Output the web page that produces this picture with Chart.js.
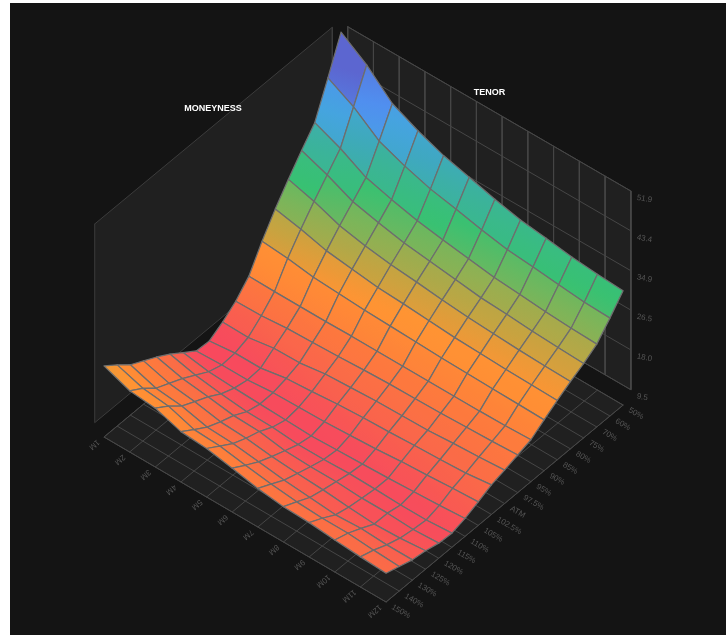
<!DOCTYPE html>
<html><head><meta charset="utf-8">
<style>
html,body{margin:0;padding:0;background:#fff;width:726px;height:635px;overflow:hidden}
#wrap{position:absolute;left:10px;top:3px;width:716px;height:632px;background:#141414;overflow:hidden}
canvas{display:block;filter:blur(0.35px)}
</style>
<script src="https://cdn.jsdelivr.net/npm/chart.js@4"></script>
</head><body><div id="wrap"><canvas id="c" width="716" height="632"></canvas></div>
<script>
// ---------- data ----------
const tenors = ['1M','2M','3M','4M','5M','6M','7M','8M','9M','10M','11M','12M'];
// front (150%) to back (50%)
const moneyness = ['150%','140%','130%','125%','120%','115%','110%','105%','102.5%','ATM','97.5%','95%','90%','85%','80%','75%','70%','60%','50%'];
const volTicks = [9.5,18.0,26.5,34.9,43.4,51.9];
const axisNames = ['MONEYNESS','TENOR'];
// implied vol per moneyness, one value per tenor (1M..12M)
const vol150 = [22.8,20.7,20.2,18.4,18.0,17.0,15.9,15.2,15.0,14.5,14.1,13.8];
const vol140 = [20.7,18.9,18.3,16.5,16.2,15.3,14.5,13.9,13.6,13.6,13.2,12.9];
const vol130 = [18.4,16.6,16.0,14.7,14.4,13.7,13.0,12.5,12.0,12.3,12.0,12.0];
const vol125 = [16.9,15.3,14.6,13.5,13.2,12.5,12.1,11.8,11.3,10.9,11.1,11.6];
const vol120 = [15.4,14.0,13.3,12.5,12.3,11.4,11.2,11.2,10.9,10.9,10.6,10.9];
const vol115 = [13.7,12.4,11.6,11.0,10.9,10.4,10.4,10.6,10.5,10.3,10.3,10.7];
const vol110 = [11.7,10.8,10.5,10.3,10.1,9.9,10.1,10.3,10.5,10.8,11.1,11.5];
const vol105 = [9.7,9.9,9.9,10.4,10.5,10.6,10.9,11.2,11.7,12.0,12.4,12.7];
const vol1025 = [9.5,10.1,10.1,11.1,11.5,12.0,12.3,12.5,12.8,13.0,13.3,14.0];
const volATM = [11.2,11.1,12.0,12.1,12.9,13.2,13.5,13.6,13.7,14.1,14.4,14.8];
const vol975 = [13.3,13.4,13.9,14.1,14.3,14.6,14.8,14.9,15.0,15.2,15.4,15.7];
const vol95 = [16.3,16.2,16.2,16.2,16.3,16.3,16.3,16.3,16.3,16.3,16.4,16.6];
const vol90 = [21.4,20.9,20.1,19.8,19.5,19.3,19.1,18.9,18.8,18.7,18.6,18.5];
const vol85 = [25.9,24.8,23.4,22.7,22.0,21.7,21.3,20.9,20.7,20.5,20.4,20.3];
const vol80 = [29.9,28.4,26.4,25.3,24.5,24.0,23.4,22.9,22.6,22.3,22.1,22.0];
const vol75 = [33.7,31.7,29.2,27.9,26.8,26.1,25.4,24.7,24.4,24.0,23.7,23.5];
const vol70 = [37.3,35.0,32.0,30.5,29.2,28.3,27.5,26.7,26.3,25.8,25.5,25.3];
const vol60 = [44.5,41.5,37.4,35.3,33.6,32.5,31.3,30.3,29.8,29.2,28.7,28.5];
const vol50 = [51.9,48.1,43.1,40.5,38.4,37.0,35.5,34.3,33.6,32.8,32.3,32.0];
const surface = [vol150,vol140,vol130,vol125,vol120,vol115,vol110,vol105,vol1025,volATM,vol975,vol95,vol90,vol85,vol80,vol75,vol70,vol60,vol50];

// ---------- isometric projection onto a page-sized linear scale ----------
const origin = {x:104,y:437}, tStep = {x:25.64,y:15}, mStep = {x:13.17,y:-10.94};
const pxPerVol = 199.5/42.4;
const nT = tenors.length-1, nM = moneyness.length-1;
const zMin = volTicks[0], zMax = volTicks[volTicks.length-1];
function floorPt(t,m){return {x:origin.x+t*tStep.x+m*mStep.x,y:origin.y+t*tStep.y+m*mStep.y};}
function surfPt(t,m){const p=floorPt(t,m);return {x:p.x,y:p.y-8.5-(surface[m][t]-zMin)*pxPerVol};}

const stops=[[9.5,[248,72,94]],[10.5,[247,76,92]],[12,[249,92,80]],[13.5,[250,106,72]],[15.5,[253,120,62]],[18.75,[255,140,53]],[20.6,[255,148,51]],[23.3,[200,163,64]],[27.3,[122,181,90]],[30.5,[56,193,114]],[34.4,[59,179,154]],[37,[63,168,192]],[39.5,[69,165,222]],[42.5,[80,144,240]],[46.5,[92,102,208]]];
function colorAt(z){
  for(let i=1;i<stops.length;i++){ if(z<=stops[i][0]){
    const a=stops[i-1],b=stops[i],f=Math.max(0,(z-a[0])/(b[0]-a[0]));
    const c=a[1].map((q,k)=>Math.round(q+(b[1][k]-q)*f));
    return `rgb(${c[0]},${c[1]},${c[2]})`; } }
  return 'rgb(92,102,208)';
}
const gradientShare=0.35; // cells are nearly flat, with a soft ramp
function quadFill(ctx2,quad,zs){
  const mid=(i,j)=>({x:(quad[i].x+quad[j].x)/2,y:(quad[i].y+quad[j].y)/2});
  const c={x:(quad[0].x+quad[1].x+quad[2].x+quad[3].x)/4,y:(quad[0].y+quad[1].y+quad[2].y+quad[3].y)/4};
  const zc=(zs[0]+zs[1]+zs[2]+zs[3])/4;
  const a=mid(1,2),b=mid(0,3),d=mid(2,3),e=mid(0,1);
  const e1={x:a.x-b.x,y:a.y-b.y},e2={x:d.x-e.x,y:d.y-e.y};
  const d1=(zs[1]+zs[2]-zs[0]-zs[3])/2,d2=(zs[2]+zs[3]-zs[0]-zs[1])/2;
  const det=e1.x*e2.y-e1.y*e2.x;
  let gx=(d1*e2.y-d2*e1.y)/det,gy=(e1.x*d2-e2.x*d1)/det;
  const len=Math.hypot(gx,gy);
  if(!isFinite(len)||len<1e-6) return colorAt(zc);
  const nx=gx/len,ny=gy/len;
  const ss=quad.map(p=>(p.x-c.x)*nx+(p.y-c.y)*ny);
  const s0=Math.min(...ss),s1=Math.max(...ss);
  const g=ctx2.createLinearGradient(c.x+nx*s0,c.y+ny*s0,c.x+nx*s1,c.y+ny*s1);
  for(let k=0;k<=4;k++){const f=k/4;g.addColorStop(f,colorAt(zc+gradientShare*len*(s0+(s1-s0)*f)));}
  return g;
}
const OX=10,OY=3;
const canvas=document.getElementById('c');
const cx=canvas.getContext('2d');

const sets=[];
function poly(pts,fill,stroke,width,close){
  sets.push({type:'line',data:close?pts.concat([pts[0]]):pts,fill:fill?'shape':false,backgroundColor:fill||'transparent',
    borderColor:stroke,borderWidth:width,pointRadius:0,pointHoverRadius:0,tension:0,borderJoinStyle:'round',borderCapStyle:'round',clip:false});
}
// walls
const wallTopL={x:94.7,y:224},wallTopR={x:332.3,y:27.3},wallH=198.7;
const backTopL={x:347.7,y:26.7},backTopR={x:630.8,y:191};
poly([wallTopL,wallTopR,{x:wallTopR.x,y:wallTopR.y+wallH},{x:wallTopL.x,y:wallTopL.y+wallH}],'#202020','#3c3c3c',1,true);
poly([backTopL,backTopR,{x:backTopR.x,y:backTopR.y+wallH},{x:backTopL.x,y:backTopL.y+wallH}],'#202020','#464646',1,true);
tenors.forEach((_,t)=>{const f=t/nT,x=backTopL.x+(backTopR.x-backTopL.x)*f,y=backTopL.y+(backTopR.y-backTopL.y)*f;
  poly([{x,y},{x,y:y+wallH}],null,'#464646',1,false);});
const backTicks=[];
volTicks.forEach(v=>{const dy=wallH*(v-zMin)/(zMax-zMin);
  poly([{x:backTopL.x,y:backTopL.y+wallH-dy},{x:backTopR.x,y:backTopR.y+wallH-dy}],null,'#464646',1,false);
  backTicks.push({v,x:backTopR.x,y:backTopR.y+wallH-dy});});
// floor
poly([floorPt(0,0),floorPt(nT,0),floorPt(nT,nM),floorPt(0,nM)],'#202020','#464646',1,true);
tenors.forEach((_,t)=>poly([floorPt(t,0),floorPt(t,nM)],null,'#464646',1,false));
moneyness.forEach((_,m)=>poly([floorPt(0,m),floorPt(nT,m)],null,'#464646',1,false));
// surface, painter's order: back (1M/50%) to front (12M/150%)
const cells=[];
for(let t=0;t<nT;t++)for(let m=0;m<nM;m++)cells.push({t,m,d:t+(nM-m)});
cells.sort((a,b)=>a.d-b.d);
cells.forEach(({t,m})=>{
  const q=[surfPt(t,m),surfPt(t+1,m),surfPt(t+1,m+1),surfPt(t,m+1)];
  const zs=[surface[m][t],surface[m][t+1],surface[m+1][t+1],surface[m+1][t]];
  const qc=q.map(p=>({x:p.x-OX,y:p.y-OY}));
  poly(q,quadFill(cx,qc,zs),'#6e6e6e',1.25,true);
});
sets.reverse(); // Chart.js paints the last dataset first

const labelsPlugin={id:'axisText',afterDatasetsDraw(chart){
  const c=chart.ctx,X=chart.scales.x,Y=chart.scales.y;
  const put=(txt,px,py,ang,font,col,align)=>{c.save();c.translate(X.getPixelForValue(px),Y.getPixelForValue(py));c.rotate(ang);
    c.font=font;c.fillStyle=col;c.textAlign=align;c.textBaseline='middle';c.fillText(txt,0,0);c.restore();};
  const tick='8px "Liberation Sans"',col='#555555';
  moneyness.forEach((s,m)=>{const p=floorPt(nT,m);put(s,p.x+6,p.y+4.5,30*Math.PI/180,tick,col,'left');});
  tenors.forEach((s,t)=>{const p=floorPt(t,0);put(s,p.x-5.5,p.y+4,140*Math.PI/180,tick,col,'left');});
  backTicks.forEach(b=>put(b.v.toFixed(1),b.x+6,b.y+6.5,10*Math.PI/180,tick,col,'left'));
  const bold='bold 9px "Liberation Sans"';
  put(axisNames[0],213,108.5,0,bold,'#ffffff','center');
  put(axisNames[1],489.5,92.5,0,bold,'#ffffff','center');
}};

new Chart(canvas,{type:'line',data:{datasets:sets},plugins:[labelsPlugin],options:{
  responsive:false,animation:false,parsing:true,normalized:false,
  layout:{padding:0},
  plugins:{legend:{display:false},tooltip:{enabled:false}},
  events:[],
  scales:{x:{type:'linear',display:false,min:OX,max:726},y:{type:'linear',display:false,min:OY,max:635,reverse:true}}
}});
</script></body></html>
